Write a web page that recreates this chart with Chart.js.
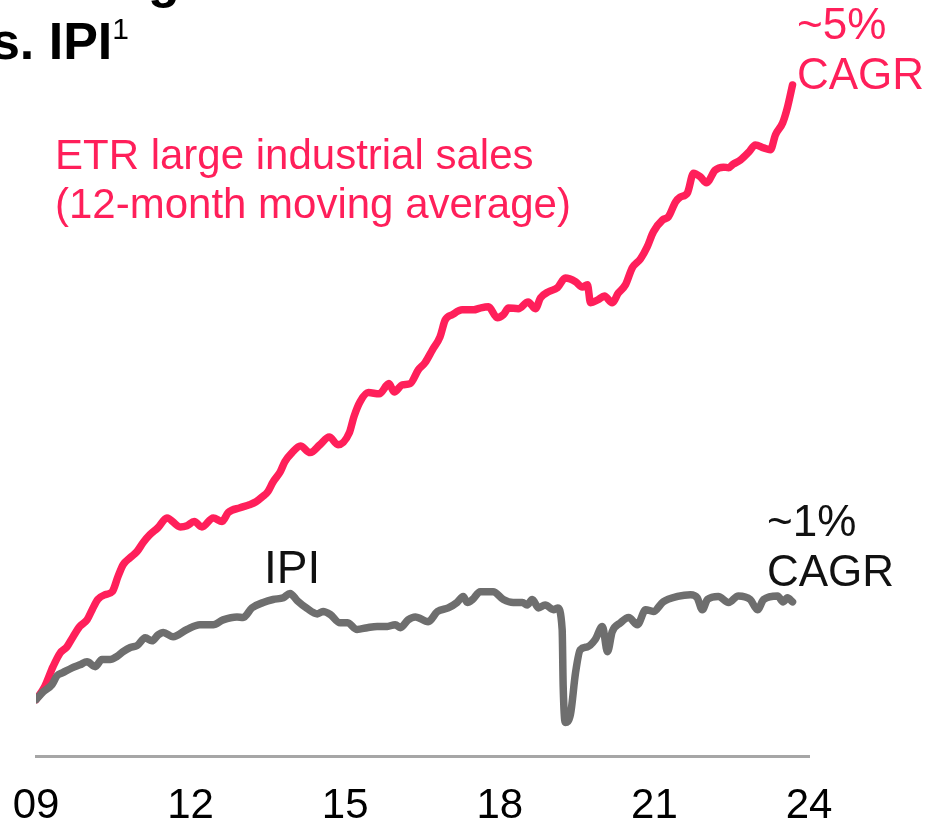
<!DOCTYPE html>
<html lang="en">
<head>
    <meta charset="UTF-8">
    <title>ETR large industrial sales vs. IPI</title>
    <script src="https://cdn.jsdelivr.net/npm/chart.js"></script>
    <style>
        body {
            margin: 0;
            width: 925px;
            height: 829px;
            overflow: hidden;
            background: #fff;
            font-family: "Liberation Sans", Arial, sans-serif;
        }
        .chart-box {
            position: absolute;
            left: 0;
            top: 0;
            width: 925px;
            height: 857px;
        }
        .note {
            position: absolute;
            white-space: nowrap;
            line-height: 1;
        }
        .title { font-weight: bold; font-size: 52px; color: #000; }
        .title sup { font-weight: normal; font-size: 30px; vertical-align: 20px; }
        .red { color: #ff1f5a; }
        .dark { color: #111; }
    </style>
</head>
<body>
    <div class="chart-box">
        <canvas id="salesChart"></canvas>
    </div>

    <div class="note title" style="left:148px; top:-47px;">g</div>
    <div class="note title" style="left:-38px; top:14px;">vs. IPI<sup>1</sup></div>

    <div class="note red" style="left:55px; top:130px; font-size:42px; line-height:49px;">ETR large industrial sales<br>(12-month moving average)</div>
    <div class="note red" style="left:797px; top:-1px; font-size:44px; line-height:50px;">~5%<br>CAGR</div>
    <div class="note dark" style="left:264px; top:544px; font-size:46px;">IPI</div>
    <div class="note dark" style="left:767px; top:496px; font-size:44px; line-height:50px;">~1%<br>CAGR</div>

    <script>
        // x axis ticks
        const tickYears = [2009, 2012, 2015, 2018, 2021, 2024];
        const tickLabels = ['09', '12', '15', '18', '21', '24'];

        // ETR large industrial sales, 12-month moving average (index, start = 100)
        const salesYears = [
            2009.00, 2009.17, 2009.33, 2009.47, 2009.60, 2009.72, 2009.85, 2009.99, 2010.09, 2010.20,
            2010.34, 2010.48, 2010.59, 2010.69, 2010.83, 2010.96, 2011.08, 2011.21, 2011.37, 2011.54,
            2011.80, 2011.93, 2012.07, 2012.22, 2012.44, 2012.61, 2012.73, 2012.96, 2013.14, 2013.27,
            2013.39, 2013.50, 2013.60, 2013.74, 2013.83, 2013.97, 2014.13, 2014.32, 2014.51, 2014.69,
            2014.86, 2015.08, 2015.17, 2015.29, 2015.45, 2015.66, 2015.85, 2015.95, 2016.11, 2016.26,
            2016.42, 2016.55, 2016.69, 2016.84, 2016.94, 2017.08, 2017.27, 2017.49, 2017.62, 2017.78,
            2017.95, 2018.07, 2018.17, 2018.36, 2018.55, 2018.69, 2018.79, 2018.94, 2019.12, 2019.27,
            2019.47, 2019.60, 2019.70, 2019.76, 2019.91, 2020.03, 2020.18, 2020.30, 2020.44, 2020.57,
            2020.73, 2020.86, 2020.98, 2021.16, 2021.27, 2021.41, 2021.50, 2021.64, 2021.76, 2021.89,
            2022.01, 2022.18, 2022.34, 2022.44, 2022.53, 2022.67, 2022.83, 2022.96, 2023.12, 2023.25,
            2023.35, 2023.49, 2023.58, 2023.68
        ];
        const salesValues = [
            100.0, 102.2, 105.5, 107.8, 108.8, 110.5, 112.2, 113.3, 115.0, 116.7,
            117.5, 118.0, 120.5, 122.5, 123.7, 124.7, 126.2, 127.5, 128.7, 130.3,
            128.8, 129.0, 129.7, 128.8, 130.3, 129.7, 131.2, 132.0, 132.5, 133.0,
            133.8, 134.7, 136.3, 138.0, 139.7, 141.2, 142.3, 141.2, 142.5, 143.8,
            142.5, 144.5, 147.2, 149.7, 151.2, 151.0, 152.7, 151.3, 152.5, 152.7,
            155.0, 156.2, 158.3, 160.5, 163.3, 164.2, 165.0, 165.0, 165.3, 165.5,
            163.7, 164.2, 165.3, 165.2, 166.3, 165.2, 167.0, 168.0, 168.7, 170.3,
            169.7, 168.8, 169.2, 166.2, 166.7, 167.3, 166.2, 167.8, 169.2, 172.0,
            173.5, 175.5, 178.0, 180.0, 180.5, 183.0, 183.8, 184.5, 187.8, 187.2,
            186.2, 188.3, 188.8, 188.7, 189.3, 190.0, 191.3, 192.5, 192.0, 191.7,
            194.2, 196.2, 198.7, 202.5
        ];

        // IPI (index, start = 100)
        const ipiYears = [
            2009.00, 2009.14, 2009.31, 2009.41, 2009.52, 2009.70, 2009.85, 2009.99, 2010.15, 2010.28,
            2010.44, 2010.57, 2010.69, 2010.83, 2010.96, 2011.12, 2011.25, 2011.37, 2011.47, 2011.66,
            2011.93, 2012.18, 2012.44, 2012.63, 2012.90, 2013.02, 2013.19, 2013.41, 2013.60, 2013.80,
            2013.93, 2014.07, 2014.26, 2014.46, 2014.57, 2014.71, 2014.90, 2015.04, 2015.23, 2015.43,
            2015.62, 2015.82, 2015.97, 2016.07, 2016.22, 2016.36, 2016.61, 2016.79, 2017.00, 2017.17,
            2017.29, 2017.37, 2017.47, 2017.62, 2017.87, 2018.07, 2018.26, 2018.44, 2018.53, 2018.63,
            2018.75, 2018.88, 2019.04, 2019.12, 2019.21, 2019.23, 2019.27, 2019.37, 2019.47, 2019.56,
            2019.70, 2019.85, 2019.99, 2020.09, 2020.18, 2020.34, 2020.50, 2020.67, 2020.83, 2020.98,
            2021.17, 2021.45, 2021.70, 2021.83, 2021.93, 2022.03, 2022.24, 2022.44, 2022.63, 2022.86,
            2023.00, 2023.12, 2023.39, 2023.50, 2023.58, 2023.68
        ];
        const ipiValues = [
            100.0, 101.3, 102.5, 104.0, 104.5, 105.3, 105.8, 106.3, 105.5, 106.7,
            106.7, 107.2, 108.0, 108.7, 109.0, 110.3, 109.8, 110.8, 111.2, 110.5,
            111.7, 112.5, 112.5, 113.3, 113.8, 113.7, 115.3, 116.2, 116.7, 117.0,
            117.7, 116.5, 115.2, 114.3, 114.7, 114.2, 112.8, 112.8, 111.7, 112.0,
            112.2, 112.2, 112.5, 112.0, 113.3, 113.8, 113.0, 114.7, 115.3, 116.2,
            117.2, 116.2, 116.7, 118.0, 118.0, 116.7, 116.2, 116.2, 115.8, 116.7,
            115.3, 115.8, 115.0, 115.3, 111.7, 102.2, 96.2, 97.5, 104.5, 108.3,
            108.8, 110.0, 112.2, 108.0, 111.3, 112.8, 113.7, 112.5, 115.0, 114.7,
            116.3, 117.2, 117.5, 117.0, 115.0, 116.7, 117.2, 116.2, 117.3, 116.7,
            115.0, 116.7, 117.3, 116.3, 117.0, 116.3
        ];

        const toPoints = (xs, ys) => xs.map((x, i) => ({ x: x, y: ys[i] }));

        new Chart(document.getElementById('salesChart'), {
            type: 'line',
            data: {
                datasets: [
                    {
                        label: 'IPI',
                        data: toPoints(ipiYears, ipiValues),
                        borderColor: '#6e6e6e',
                        borderWidth: 7.5
                    },
                    {
                        label: 'ETR large industrial sales (12-month moving average)',
                        data: toPoints(salesYears, salesValues),
                        borderColor: '#ff1f5a',
                        borderWidth: 7.5
                    }
                ]
            },
            options: {
                responsive: true,
                maintainAspectRatio: false,
                animation: false,
                layout: {
                    padding: { top: 40, left: 36, right: 116, bottom: 0 }
                },
                elements: {
                    point: { radius: 0 },
                    line: {
                        cubicInterpolationMode: 'monotone',
                        borderCapStyle: 'round',
                        borderJoinStyle: 'round'
                    }
                },
                plugins: {
                    legend: { display: false },
                    tooltip: { enabled: false }
                },
                scales: {
                    x: {
                        type: 'linear',
                        min: 2009,
                        max: 2024,
                        afterBuildTicks: axis => {
                            axis.ticks = tickYears.map(v => ({ value: v }));
                        },
                        grid: { display: false, drawTicks: false },
                        border: { display: true, color: '#a6a6a6', width: 3 },
                        ticks: {
                            padding: 4,
                            maxRotation: 0,
                            color: '#000',
                            font: { family: '"Liberation Sans", Arial, sans-serif', size: 42, lineHeight: 2.2 },
                            callback: (value, index) => tickLabels[index]
                        }
                    },
                    y: {
                        display: false,
                        min: 90.5,
                        max: 210
                    }
                }
            }
        });
    </script>
</body>
</html>
